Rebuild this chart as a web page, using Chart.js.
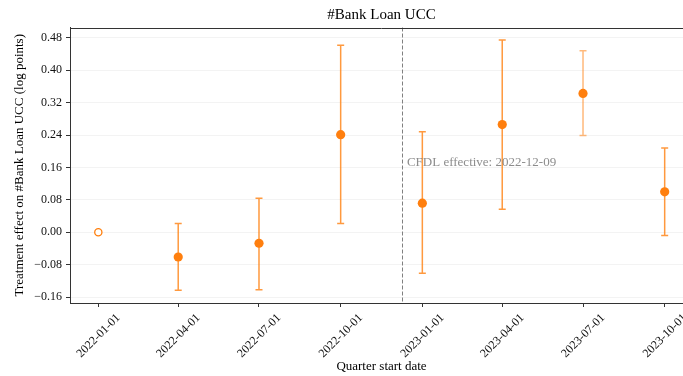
<!DOCTYPE html>
<html>
<head>
<meta charset="utf-8">
<script src="https://cdn.jsdelivr.net/npm/chart.js@4/dist/chart.umd.min.js"></script>
<style>
  html, body { margin: 0; padding: 0; background: #fff; }
  body { width: 683px; height: 376px; overflow: hidden; }
  #wrap { width: 720px; height: 376px; }
</style>
</head>
<body>
<div id="wrap"><canvas id="c" width="720" height="376"></canvas></div>
<script>
// Quarterly treatment effects with 95% confidence intervals
const quarters  = ['2022-01-01','2022-04-01','2022-07-01','2022-10-01','2023-01-01','2023-04-01','2023-07-01','2023-10-01'];
const estimate  = [0.000, -0.061, -0.027, 0.241, 0.072, 0.266, 0.343, 0.100];
const ciLow     = [null, -0.143, -0.142, 0.022, -0.101, 0.057, 0.239, -0.008];
const ciHigh    = [null,  0.022,  0.084, 0.462,  0.248, 0.475, 0.448,  0.208];
const isReference = [true, false, false, false, false, false, false, false];
const yTickValues = [-0.16, -0.08, 0.00, 0.08, 0.16, 0.24, 0.32, 0.40, 0.48];
const eventDate  = '2022-12-09';
const eventLabel = 'CFDL effective: ' + eventDate;

// per-interval opacity of the whiskers
const whiskerAlpha = [0, 0.8, 0.8, 0.8, 0.8, 0.8, 0.55, 0.8];

const DAY = 86400000;
const t0 = Date.parse(quarters[0]);
const toDay = s => (Date.parse(s) - t0) / DAY;
const dayToLabel = d => new Date(t0 + d * DAY).toISOString().slice(0, 10);
const qDays = quarters.map(toDay);
const eventDay = toDay(eventDate);

const ORANGE = '#ff7f0e';
const SERIF = '"Liberation Serif", "DejaVu Serif", serif';

const span = qDays[qDays.length - 1] - qDays[0];
const xMin = qDays[0] - span * 0.05;
const xMax = qDays[qDays.length - 1] + span * 0.05;

const fmtY = v => (v < 0 ? '\u2212' : '') + Math.abs(v).toFixed(2);

const decorations = {
  id: 'decorations',
  beforeDatasetsDraw(chart) {
    const {ctx, chartArea: a, scales: {x, y}} = chart;
    ctx.save();
    // event marker
    const ex = Math.round(x.getPixelForValue(eventDay)) + 0.5;
    ctx.strokeStyle = '#808080';
    ctx.lineWidth = 1;
    ctx.setLineDash([4, 2]);
    ctx.beginPath();
    ctx.moveTo(ex, a.top);
    ctx.lineTo(ex, a.bottom);
    ctx.stroke();
    ctx.setLineDash([]);
    // confidence intervals
    qDays.forEach((d, i) => {
      if (ciLow[i] == null) return;
      const px = x.getPixelForValue(d);
      const y1 = y.getPixelForValue(ciLow[i]);
      const y2 = y.getPixelForValue(ciHigh[i]);
      ctx.strokeStyle = `rgba(255,127,14,${whiskerAlpha[i]})`;
      ctx.lineWidth = 1.5;
      ctx.beginPath();
      ctx.moveTo(px, y1); ctx.lineTo(px, y2);
      ctx.moveTo(px - 3.5, y1); ctx.lineTo(px + 3.5, y1);
      ctx.moveTo(px - 3.5, y2); ctx.lineTo(px + 3.5, y2);
      ctx.stroke();
    });
    ctx.restore();
  },
  afterDraw(chart) {
    const {ctx, chartArea: a, scales: {x}} = chart;
    ctx.save();
    // frame top and right edges
    ctx.strokeStyle = '#333';
    ctx.lineWidth = 1;
    ctx.beginPath();
    ctx.moveTo(a.left, Math.round(a.top) + 0.5);
    ctx.lineTo(a.right, Math.round(a.top) + 0.5);
    ctx.moveTo(Math.round(a.right) + 0.5, a.top);
    ctx.lineTo(Math.round(a.right) + 0.5, a.bottom);
    ctx.stroke();
    // event annotation
    ctx.fillStyle = 'rgba(120,120,120,0.85)';
    ctx.font = '13px ' + SERIF;
    ctx.textAlign = 'left';
    ctx.textBaseline = 'middle';
    ctx.fillText(eventLabel, x.getPixelForValue(eventDay) + 5, 163);
    // titles
    const cx = (a.left + a.right) / 2;
    ctx.fillStyle = '#000';
    ctx.textAlign = 'center';
    ctx.font = '15px ' + SERIF;
    ctx.fillText('#Bank Loan UCC', cx, 15);
    ctx.font = '13px ' + SERIF;
    ctx.fillText('Quarter start date', cx, 367);
    ctx.translate(20, (a.top + a.bottom) / 2);
    ctx.rotate(-Math.PI / 2);
    ctx.fillText('Treatment effect on #Bank Loan UCC (log points)', 0, 0);
    ctx.restore();
  }
};

new Chart(document.getElementById('c'), {
  type: 'scatter',
  data: {
    datasets: [{
      data: qDays.map((d, i) => ({x: d, y: estimate[i]})),
      backgroundColor: isReference.map(r => r ? '#ffffff' : ORANGE),
      borderColor: ORANGE,
      borderWidth: isReference.map(r => r ? 1.3 : 0),
      pointRadius: isReference.map(r => r ? 3.6 : 4.6),
      pointHoverRadius: 4.6
    }]
  },
  options: {
    responsive: false,
    animation: false,
    devicePixelRatio: 1,
    layout: { padding: { top: 27.5, right: 27, left: 0, bottom: 0 } },
    plugins: { legend: { display: false }, tooltip: { enabled: false }, title: { display: false } },
    scales: {
      x: {
        type: 'linear',
        min: xMin, max: xMax,
        afterFit(s) { s.height = 73; },
        afterBuildTicks(s) { s.ticks = qDays.map(v => ({value: v})); },
        grid: { drawOnChartArea: false, tickLength: 4, tickColor: '#333' },
        border: { color: '#333', width: 1 },
        ticks: {
          callback: v => dayToLabel(v),
          minRotation: 45, maxRotation: 45,
          autoSkip: false,
          labelOffset: 20,
          padding: 4,
          color: '#111',
          font: { family: SERIF, size: 12 }
        }
      },
      y: {
        min: -0.1746, max: 0.5057,
        afterFit(s) { s.width = 70; },
        afterBuildTicks(s) { s.ticks = yTickValues.map(v => ({value: v})); },
        grid: { color: '#f3f3f3', tickLength: 4, tickColor: '#333' },
        border: { color: '#333', width: 1 },
        ticks: {
          callback: v => fmtY(v),
          padding: 4,
          color: '#111',
          font: { family: SERIF, size: 12 }
        }
      }
    }
  },
  plugins: [decorations]
});
</script>
</body>
</html>
